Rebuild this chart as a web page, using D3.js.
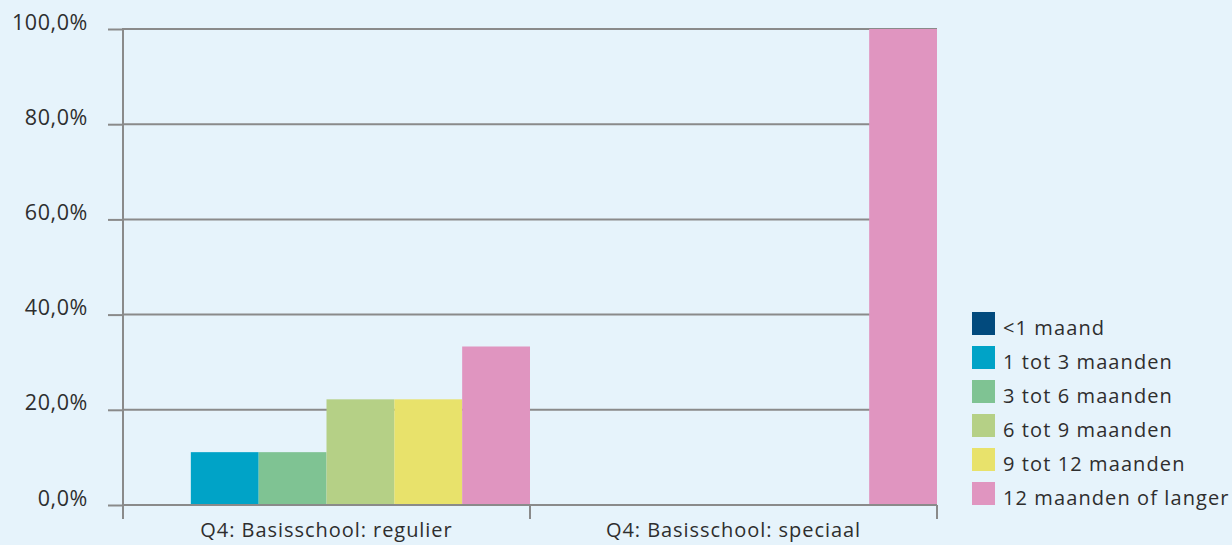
<!DOCTYPE html>
<html><head><meta charset="utf-8">
<script src="https://cdn.jsdelivr.net/npm/d3@7"></script>
<style>html,body{margin:0;padding:0;background:#e6f3fb;}svg{display:block;}</style>
</head><body>
<script>
const categories = ["Q4: Basisschool: regulier", "Q4: Basisschool: speciaal"];
const seriesNames = ["<1 maand", "1 tot 3 maanden", "3 tot 6 maanden", "6 tot 9 maanden", "9 tot 12 maanden", "12 maanden of langer"];
const seriesColors = ["#024a7d", "#00a3c7", "#7fc393", "#b5d086", "#e8e26b", "#e095c0"];
const valuesRegulier = [0, 11.1, 11.1, 22.2, 22.2, 33.3];
const valuesSpeciaal = [0, 0, 0, 0, 0, 100];
const yTicks = [0, 20, 40, 60, 80, 100];

const W = 1232, H = 545;
const svg = d3.select("body").append("svg").attr("width", W).attr("height", H);
svg.append("rect").attr("width", W).attr("height", H).attr("fill", "#e6f3fb");

const x0 = d3.scaleBand().domain(categories).range([123, 937]).padding(0);
const x1 = d3.scaleBand().domain(seriesNames).range([0, x0.bandwidth()]).padding(0);
const y = d3.scaleLinear().domain([0, 100]).range([505, 29]);
const font = "'Open Sans', Lato, sans-serif";
const grey = "#8a8a8a";
const txt = "#2e2e2e";

// gridlines
svg.append("g").selectAll("line").data(yTicks.filter(d => d > 0)).join("line")
  .attr("x1", 123).attr("x2", 937).attr("y1", d => y(d)).attr("y2", d => y(d))
  .attr("stroke", grey).attr("stroke-width", 2);

// bars
const data = [valuesRegulier, valuesSpeciaal];
categories.forEach((c, ci) => {
  svg.append("g").attr("transform", `translate(${x0(c)},0)`)
    .selectAll("rect").data(data[ci]).join("rect")
    .attr("x", (d, i) => x1(seriesNames[i]))
    .attr("width", x1.bandwidth())
    .attr("y", d => y(d)).attr("height", d => y(0) - y(d))
    .attr("fill", (d, i) => seriesColors[i]);
});

// y axis
const yAxis = svg.append("g").attr("transform", "translate(123,0)")
  .call(d3.axisLeft(y).tickValues(yTicks).tickSize(15).tickPadding(20)
    .tickFormat(d => d.toFixed(1).replace(".", ",") + "%"));
yAxis.select(".domain").remove();
yAxis.selectAll(".tick line").attr("stroke", grey).attr("stroke-width", 2);
yAxis.selectAll(".tick text").attr("font-family", font).attr("font-size", 21.5)
  .attr("fill", txt).attr("dy", 0).attr("x", -35).attr("letter-spacing", 0.6);
svg.append("line").attr("x1", 123).attr("x2", 123).attr("y1", 28).attr("y2", 519)
  .attr("stroke", grey).attr("stroke-width", 2);

// x axis
svg.append("line").attr("x1", 123).attr("x2", 937).attr("y1", 505).attr("y2", 505)
  .attr("stroke", grey).attr("stroke-width", 2);
svg.append("g").selectAll("line").data([x0.range()[0], x0(categories[1]), x0.range()[1]]).join("line")
  .attr("x1", d => d).attr("x2", d => d).attr("y1", 505).attr("y2", 519)
  .attr("stroke", grey).attr("stroke-width", 2);
svg.append("g").selectAll("text").data(categories).join("text")
  .attr("x", d => x0(d) + x0.bandwidth() / 2).attr("y", 537)
  .attr("text-anchor", "middle").attr("font-family", font).attr("font-size", 20)
  .attr("letter-spacing", 0.95)
  .attr("fill", txt).text(d => d);

// legend
const lg = svg.append("g").attr("transform", "translate(972,312)");
const items = lg.selectAll("g").data(seriesNames).join("g")
  .attr("transform", (d, i) => `translate(0,${i * 34})`);
items.append("rect").attr("width", 23).attr("height", 23).attr("fill", (d, i) => seriesColors[i]);
items.append("text").attr("x", 31).attr("y", 23).attr("font-family", font).attr("font-size", 20)
  .attr("letter-spacing", 1.1)
  .attr("fill", txt).text(d => d);
</script>
</body></html>
